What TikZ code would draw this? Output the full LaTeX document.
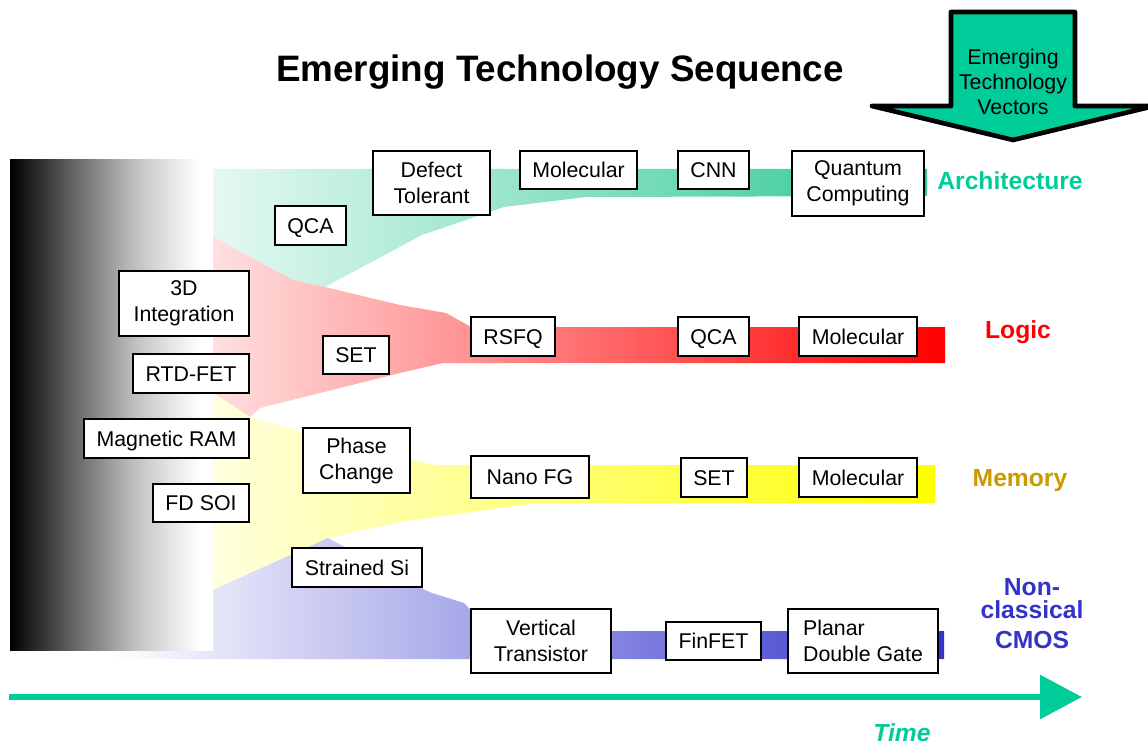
\documentclass[tikz,border=0pt]{standalone}
\usepackage{fontspec}
\setmainfont{Liberation Sans}
\usetikzlibrary{arrows.meta}

\definecolor{archgreen}{RGB}{0,204,153}
\definecolor{bandgreen}{RGB}{45,200,150}
\definecolor{logicred}{RGB}{255,0,0}
\definecolor{memgold}{RGB}{204,153,0}
\definecolor{cmosblue}{RGB}{51,51,204}

% black-to-white fade of the starting block (path spans 25bp..75bp)
\pgfdeclarehorizontalshading{fadebw}{100bp}{color(0bp)=(black); color(25bp)=(black); color(42bp)=(black!57); color(55.5bp)=(black!25); color(63.5bp)=(black!12); color(72bp)=(white); color(100bp)=(white)}

\tikzset{
  tech/.style={draw=black, line width=1.1pt, fill=white, inner sep=0pt,
    align=center, font=\fontsize{16}{19.5}\selectfont},
  one/.style={text height=11.6pt, text depth=0pt},
  sz/.style 2 args={minimum width=#1*0.75pt, minimum height=#2*0.75pt},
  vec/.style={font=\fontsize{18.5}{22}\selectfont\bfseries, anchor=base},
}

\begin{document}
\begin{tikzpicture}[x=0.75pt,y=-0.75pt]
\useasboundingbox (0,0) rectangle (1148,745);

% technology bands, fading in from the left
\shade[left color=white, right color=bandgreen]
  (110,169) -- (927,169) -- (927,196) -- (586,197) -- (504,207) -- (422,235)
  -- (325,287) -- (293,280) -- (213,237) -- (110,237) -- cycle;
\shade[left color=white, right color=logicred]
  (110,237) -- (213,237) -- (293,280) -- (325,287) -- (400,305) -- (446,313)
  -- (471,327) -- (945,327) -- (945,363) -- (443,363) -- (400,373)
  -- (260,408) -- (250,417) -- (213,393) -- (110,393) -- cycle;
\shade[left color=white, right color=yellow]
  (110,393) -- (213,393) -- (250,417) -- (303,432) -- (410,460) -- (436,465)
  -- (935,465) -- (935,503) -- (536,503) -- (400,522) -- (328,538)
  -- (213,590) -- (110,590) -- cycle;
\shade[left color=white, right color=cmosblue]
  (110,590) -- (213,590) -- (328,538) -- (421,588) -- (432,593) -- (464,603)
  -- (490,631) -- (944,631) -- (944,659) -- (110,659) -- cycle;

% starting block
\shade[shading=fadebw] (10,160) rectangle (213,650);

% title
\node[font=\fontsize{27.6}{30}\selectfont\bfseries, anchor=base] (title) at (560,82)
  {Emerging Technology Sequence};

% vectors arrow
\draw[line width=3.5pt, fill=archgreen, line join=round]
  (951,12) -- (1075,12) -- (1075,106) -- (1154,106) -- (1013,140)
  -- (872,106) -- (951,106) -- cycle;
\node[align=center, font=\fontsize{16}{19}\selectfont] (vectors) at (1013,82)
  {Emerging\\Technology\\Vectors};

% architecture
\node[tech, one, sz={71}{39}]  (qcaA)    at (310.5,225.5) {QCA};
\node[tech, sz={117}{64}]      (defect)  at (431.5,183)   {Defect\\Tolerant};
\node[tech, one, sz={117}{38}] (molA)    at (578.5,170)   {Molecular};
\node[tech, one, sz={71}{38}]  (cnn)     at (713.5,170)   {CNN};
\node[tech, sz={132}{65}]      (quantum) at (858,183.5)   {Quantum\\Computing};

% early block entries
\node[tech, sz={130}{65}]      (threeD)  at (184,303.5)   {3D\\Integration};
\node[tech, one, sz={116}{39}] (rtd)     at (191,373.5)   {RTD-FET};
\node[tech, one, sz={165}{39}] (mram)    at (166.5,438.5) {Magnetic RAM};
\node[tech, one, sz={96}{38}]  (fdsoi)   at (201,503)     {FD SOI};

% logic
\node[tech, one, sz={66}{38}]  (setL)    at (356,355)     {SET};
\node[tech, one, sz={84}{39}]  (rsfq)    at (513,336.5)   {RSFQ};
\node[tech, one, sz={71}{39}]  (qcaL)    at (713.5,336.5) {QCA};
\node[tech, one, sz={118}{39}] (molL)    at (858,336.5)   {Molecular};

% memory
\node[tech, sz={107}{65}]      (phase)   at (356.5,460.5) {Phase\\Change};
\node[tech, one, sz={118}{42}] (nanofg)  at (530,477)     {Nano FG};
\node[tech, one, sz={66}{39}]  (setM)    at (714,477.5)   {SET};
\node[tech, one, sz={118}{39}] (molM)    at (858,477.5)   {Molecular};

% non-classical CMOS
\node[tech, one, sz={130}{39}] (strained) at (357,567.5)  {Strained Si};
\node[tech, sz={140}{64}]      (vertical) at (541,641)    {Vertical\\Transistor};
\node[tech, one, sz={95}{38}]  (finfet)   at (713.5,641)  {FinFET};
\node[tech, sz={150}{64}, align=left] (planar) at (863,641) {Planar\\Double Gate};

% vector names
\node[vec, text=archgreen] (archlab)  at (1010,190) {Architecture};
\node[vec, text=logicred]  (logiclab) at (1018,338) {Logic};
\node[vec, text=memgold]   (memlab)   at (1020,486) {Memory};
\node[vec, text=cmosblue]  (cmos1)    at (1032,595) {Non-};
\node[vec, text=cmosblue]  (cmos2)    at (1032,618) {classical};
\node[vec, text=cmosblue]  (cmos3)    at (1032,648) {CMOS};

% time axis
\coordinate (tstart) at (9,697);
\coordinate (tend) at (1082,697);
\draw[line width=4.5pt, archgreen, -{Triangle[length=31.5pt, width=32.25pt]}]
  (tstart) -- (tend);
\node[font=\fontsize{18.5}{22}\selectfont\bfseries\itshape, text=archgreen, anchor=base,
  inner sep=1pt] (timelab) at (902,741) {Time};
\end{tikzpicture}
\end{document}
